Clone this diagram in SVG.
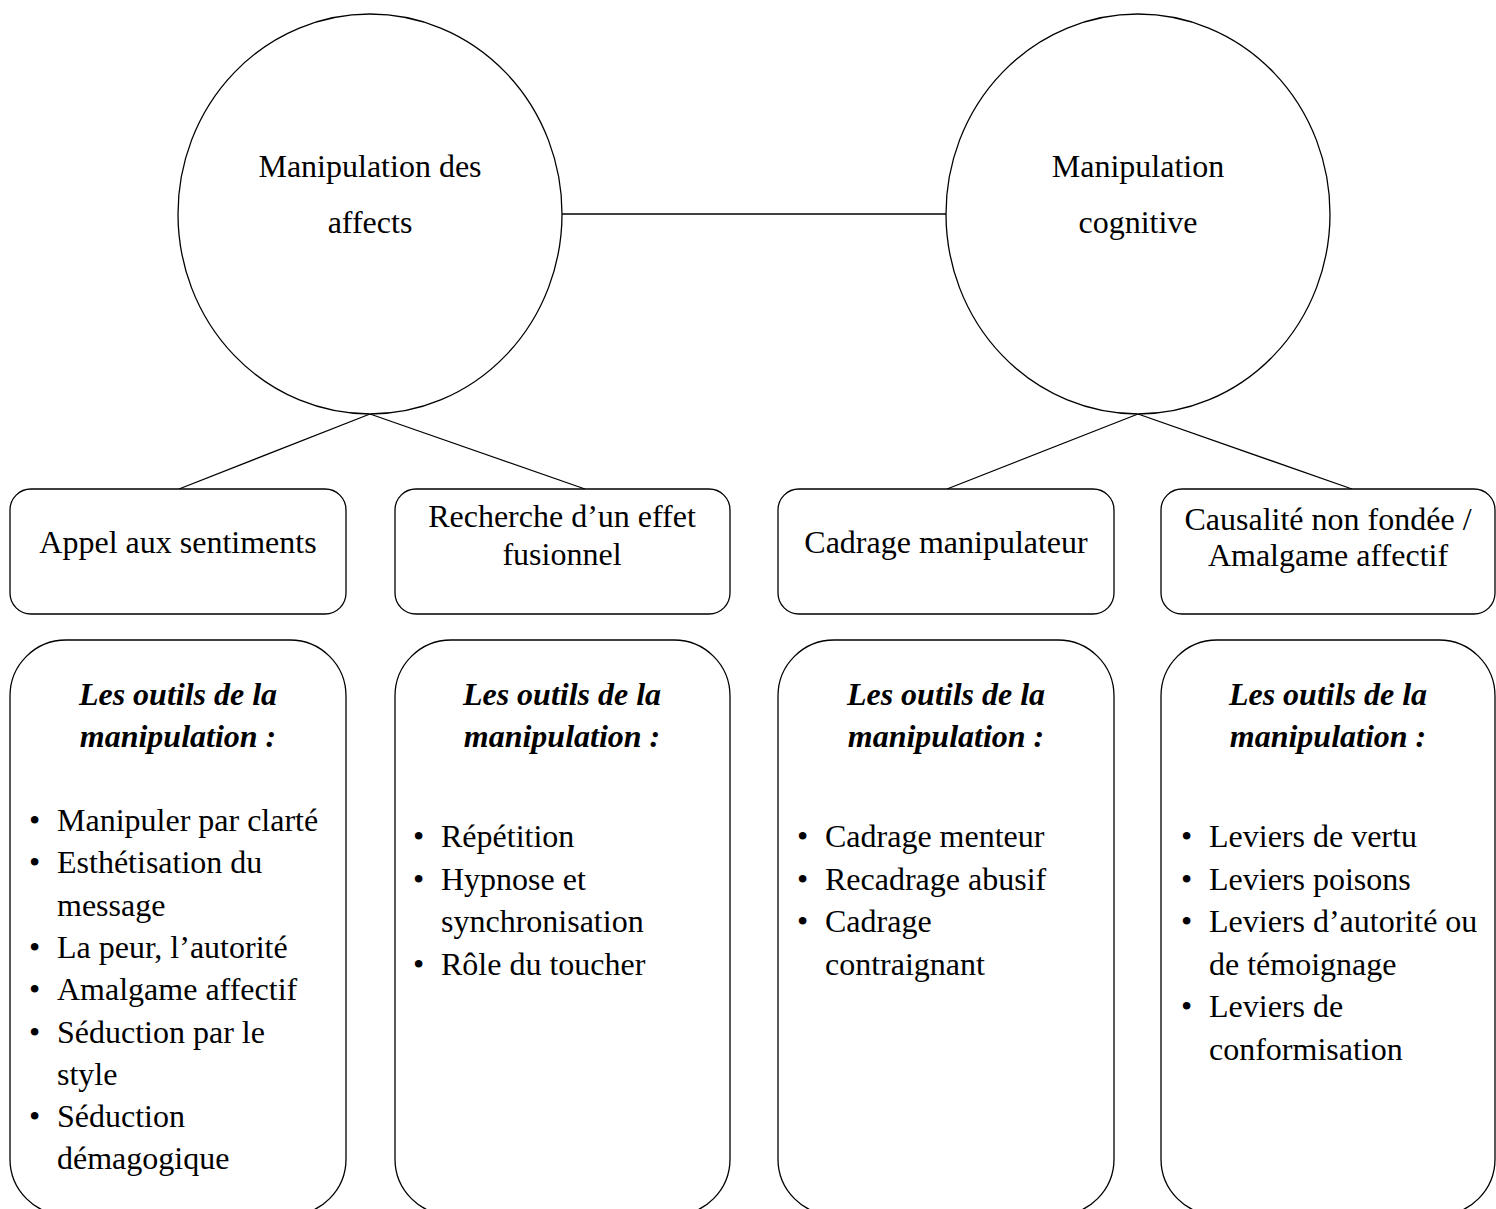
<svg xmlns="http://www.w3.org/2000/svg" width="1496" height="1209" viewBox="0 0 1496 1209">
<style>
.s{fill:#fff;stroke:#000;stroke-width:1.3}
.l{stroke:#000;stroke-width:1.3;fill:none}
text{font-family:"Liberation Serif","Times New Roman",serif;font-size:32px;fill:#000}
.c{text-anchor:middle}
.h{font-weight:bold;font-style:italic;text-anchor:middle}
</style>
<rect width="1496" height="1209" fill="#fff"/>
<g id="connectors">
<line class="l" x1="562" y1="214" x2="946" y2="214"/>
<line class="l" x1="370" y1="414" x2="179" y2="489"/>
<line class="l" x1="370" y1="414" x2="585" y2="489"/>
<line class="l" x1="1138" y1="414" x2="947" y2="489"/>
<line class="l" x1="1138" y1="414" x2="1352" y2="489"/>
</g>
<g id="affects">
<ellipse class="s" cx="370" cy="214" rx="192" ry="200"/>
<text class="c" x="370" y="177">Manipulation des</text>
<text class="c" x="370" y="233">affects</text>
</g>
<g id="cognitive">
<ellipse class="s" cx="1138" cy="214" rx="192" ry="200"/>
<text class="c" x="1138" y="177">Manipulation</text>
<text class="c" x="1138" y="233">cognitive</text>
</g>
<g id="appel">
<rect class="s" x="10" y="489" width="336" height="125" rx="21"/>
<text class="c" x="178" y="553">Appel aux sentiments</text>
</g>
<g id="recherche">
<rect class="s" x="395" y="489" width="335" height="125" rx="21"/>
<text class="c" x="562" y="527">Recherche d’un effet</text>
<text class="c" x="562" y="565">fusionnel</text>
</g>
<g id="cadrage">
<rect class="s" x="778" y="489" width="336" height="125" rx="21"/>
<text class="c" x="946" y="553">Cadrage manipulateur</text>
</g>
<g id="causalite">
<rect class="s" x="1161" y="489" width="334" height="125" rx="21"/>
<text class="c" x="1328" y="530">Causalité non fondée /</text>
<text class="c" x="1328" y="566">Amalgame affectif</text>
</g>
<g id="outils1">
<rect class="s" x="10" y="640" width="336" height="575" rx="56"/>
<text class="h" x="178" y="705">Les outils de la</text>
<text class="h" x="178" y="747">manipulation :</text>
<text x="29" y="831">•</text><text x="57" y="831">Manipuler par clarté</text>
<text x="29" y="873">•</text><text x="57" y="873">Esthétisation du</text>
<text x="57" y="915.5">message</text>
<text x="29" y="958">•</text><text x="57" y="958">La peur, l’autorité</text>
<text x="29" y="1000">•</text><text x="57" y="1000">Amalgame affectif</text>
<text x="29" y="1042.5">•</text><text x="57" y="1042.5">Séduction par le</text>
<text x="57" y="1085">style</text>
<text x="29" y="1127">•</text><text x="57" y="1127">Séduction</text>
<text x="57" y="1169">démagogique</text>
</g>
<g id="outils2">
<rect class="s" x="395" y="640" width="335" height="575" rx="56"/>
<text class="h" x="562" y="705">Les outils de la</text>
<text class="h" x="562" y="747">manipulation :</text>
<text x="413" y="847">•</text><text x="441" y="847">Répétition</text>
<text x="413" y="889.5">•</text><text x="441" y="889.5">Hypnose et</text>
<text x="441" y="932">synchronisation</text>
<text x="413" y="974.5">•</text><text x="441" y="974.5">Rôle du toucher</text>
</g>
<g id="outils3">
<rect class="s" x="778" y="640" width="336" height="575" rx="56"/>
<text class="h" x="946" y="705">Les outils de la</text>
<text class="h" x="946" y="747">manipulation :</text>
<text x="797" y="847">•</text><text x="825" y="847">Cadrage menteur</text>
<text x="797" y="889.5">•</text><text x="825" y="889.5">Recadrage abusif</text>
<text x="797" y="932">•</text><text x="825" y="932">Cadrage</text>
<text x="825" y="974.5">contraignant</text>
</g>
<g id="outils4">
<rect class="s" x="1161" y="640" width="334" height="575" rx="56"/>
<text class="h" x="1328" y="705">Les outils de la</text>
<text class="h" x="1328" y="747">manipulation :</text>
<text x="1181" y="847">•</text><text x="1209" y="847">Leviers de vertu</text>
<text x="1181" y="889.5">•</text><text x="1209" y="889.5">Leviers poisons</text>
<text x="1181" y="932">•</text><text x="1209" y="932">Leviers d’autorité ou</text>
<text x="1209" y="974.5">de témoignage</text>
<text x="1181" y="1017">•</text><text x="1209" y="1017">Leviers de</text>
<text x="1209" y="1059.5">conformisation</text>
</g>
</svg>
